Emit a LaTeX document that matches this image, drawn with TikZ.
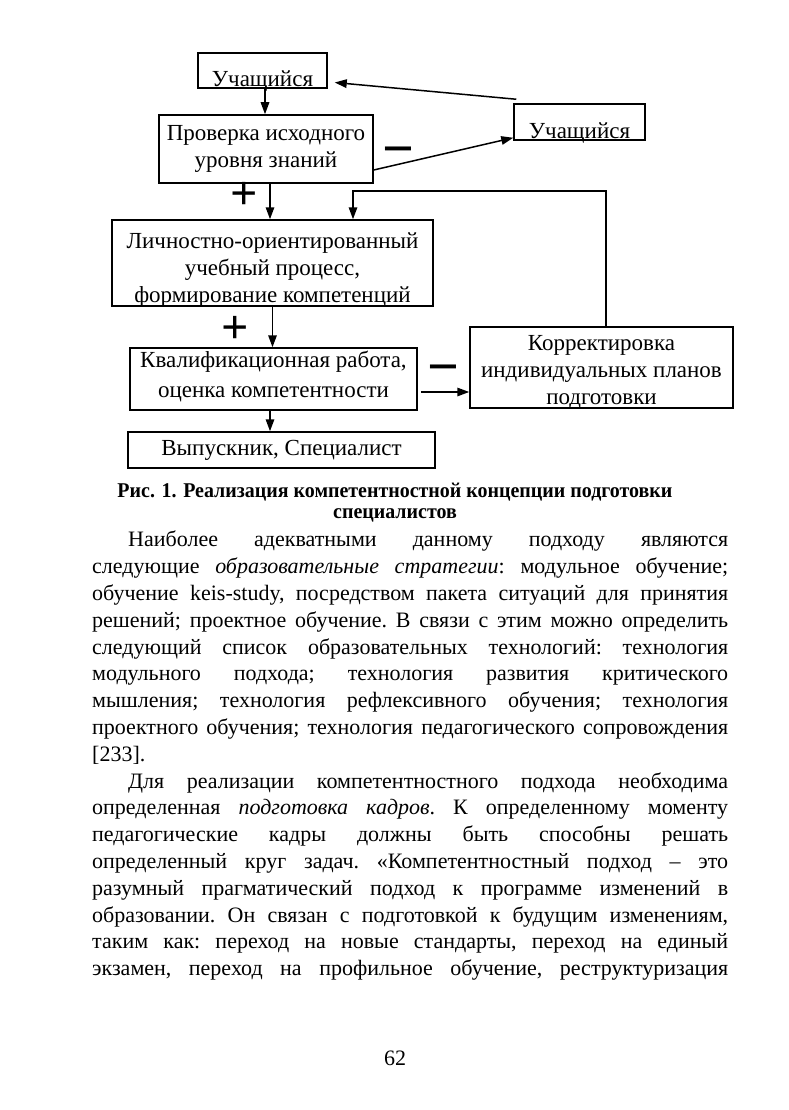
\documentclass[tikz,border=0pt]{standalone}
\usepackage{fontspec}
\setmainfont{Liberation Serif}
\newfontfamily\capfont[FakeStretch=0.95]{Liberation Serif}
\usetikzlibrary{arrows.meta}
\tikzset{
	>={Triangle[length=12pt,width=8.5pt]},
	box/.style={draw, line width=1.5pt, inner sep=0pt, align=center, font=\fontsize{23}{27}\selectfont},
	lowbox/.style={box, text depth=0pt, inner ysep=1pt},
	link/.style={line width=1.5pt, ->},
	sign/.style={inner sep=0pt, font=\fontsize{48}{48}\selectfont\bfseries},
	caption/.style={align=center, font=\capfont\bfseries\fontsize{21}{21}\selectfont},
	bodytext/.style={anchor=north west, inner sep=0pt, text width=636pt, align=justify, font=\fontsize{22}{26.8}\selectfont},
}

\begin{document}
\begin{tikzpicture}[x=1pt,y=-1pt]

	% Page
	\fill[white] (0,0) rectangle (789,1110);
	\useasboundingbox (0,0) rectangle (789,1110);

	% Boxes
	\node[lowbox, minimum width=129pt, text height=33pt] (pupil) at (262.5,70.5) {Учащийся};
	\node[box, minimum width=214pt, minimum height=68pt] (check) at (266,149) {Проверка исходного\\уровня знаний};
	\node[lowbox, minimum width=131pt, text height=34pt] (pupilb) at (579.5,122) {Учащийся};
	\node[box, text depth=0pt, minimum width=321pt, minimum height=86pt] (process) at (272.5,263) {\rule{0pt}{24pt}Личностно-ориентированный\\учебный процесс,\\формирование компетенций};
	\node[box, text depth=0pt, minimum width=263pt, minimum height=81pt] (correct) at (601.5,367.5) {\rule{0pt}{20pt}Корректировка\\индивидуальных планов\\подготовки};
	\node[box, font=\fontsize{23}{30}\selectfont, minimum width=287pt, minimum height=62pt] (thesis) at (273.5,379) {Квалификационная работа,\\оценка компетентности\rule[-10pt]{0pt}{1pt}};
	\node[box, minimum width=307pt, minimum height=36pt] (grad) at (281.5,450) {Выпускник, Специалист};

	% Signs
	\node[sign, font=\fontsize{56}{56}\selectfont\bfseries] (minusa) at (398,157) {−};
	\node[sign] (plusa) at (244,196) {+};
	\node[sign] (plusb) at (235,330) {+};
	\node[sign, font=\fontsize{56}{56}\selectfont\bfseries] (minusb) at (443,375) {−};

	% Connectors
	\draw[link] ([xshift=2.5pt]pupil.south) -- ([xshift=2.5pt]pupil.south |- check.north);
	\draw[link] ([yshift=-21pt]check.east) -- ([yshift=3pt]pupilb.south west);
	\draw[link] ([xshift=3pt,yshift=4pt]pupilb.north west) -- ([xshift=7pt,yshift=-12pt]pupil.east);
	\draw[link] ([xshift=4pt]check.south) -- ([xshift=4pt]check.south |- process.north);
	\coordinate (fb) at (353,191);
	\draw[link] ([xshift=4.5pt]correct.north) |- (fb) -- (fb |- process.north);
	\draw[link] (process.south) -- (process.south |- thesis.north);
	\draw[link] ([xshift=-3.5pt]thesis.south) -- ([xshift=-3.5pt]thesis.south |- grad.north);
	\coordinate (tq) at ([xshift=3pt,yshift=-13pt]thesis.east);
	\draw[link] (tq) -- (tq -| correct.west);

	% Caption
	\node[caption] (cap) at (395,503) {Рис. 1. Реализация компетентностной концепции подготовки\\специалистов};

	% Text
	\node[bodytext] (body) at (92,531) {\parindent=0pt\tolerance=9999\hbadness=10000\frenchspacing
		\hspace*{36pt}Наиболее адекватными данному подходу являются\linebreak{}
		следующие \textit{образовательные стратегии}: модульное обучение;\linebreak{}
		обучение keis-study, посредством пакета ситуаций для принятия\linebreak{}
		решений; проектное обучение. В связи с этим можно определить\linebreak{}
		следующий список образовательных технологий: технология\linebreak{}
		модульного подхода; технология развития критического\linebreak{}
		мышления; технология рефлексивного обучения; технология\linebreak{}
		проектного обучения; технология педагогического сопровождения\linebreak{}
		[233].\par
		\hspace*{36pt}Для реализации компетентностного подхода необходима\linebreak{}
		определенная \textit{подготовка кадров}. К определенному моменту\linebreak{}
		педагогические кадры должны быть способны решать\linebreak{}
		определенный круг задач. «Компетентностный подход – это\linebreak{}
		разумный прагматический подход к программе изменений в\linebreak{}
		образовании. Он связан с подготовкой к будущим изменениям,\linebreak{}
		таким как: переход на новые стандарты, переход на единый\linebreak{}
		экзамен, переход на профильное обучение, реструктуризация{\parfillskip=0pt\par}};

	% Page number
	\node[font=\fontsize{22}{26}\selectfont, inner sep=0pt] (pagenum) at (395,1058) {62};

\end{tikzpicture}
\end{document}
